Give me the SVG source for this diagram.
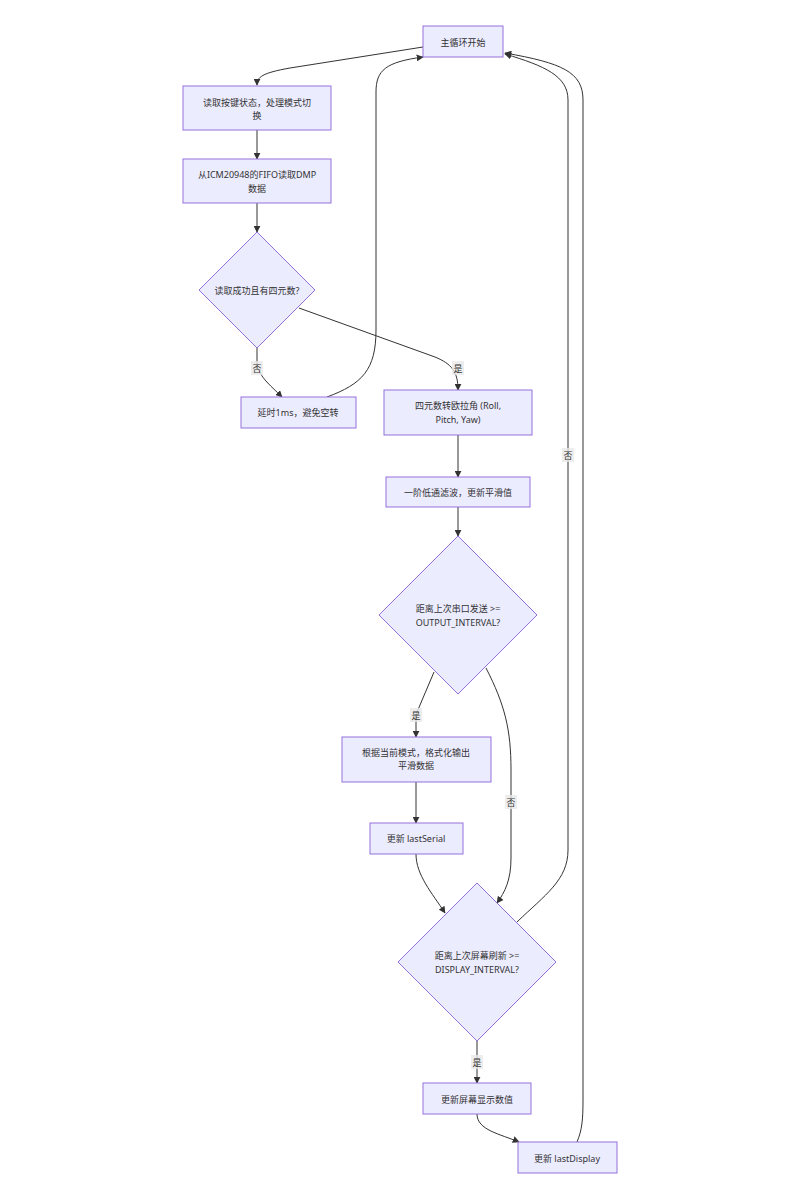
<svg xmlns="http://www.w3.org/2000/svg" width="800" height="1200" viewBox="0 0 800 1200">
<style>
.n{fill:#ECECFF;stroke:#9370DB;stroke-width:1}
.t{font-family:"Noto Sans","Noto Sans CJK SC",sans-serif;font-size:9px;fill:#333;text-anchor:middle;dominant-baseline:central}
.e{fill:none;stroke:#333;stroke-width:1}
.lb{fill:#e8e8e8;fill-opacity:0.8}
</style>
<defs>
<marker id="arr" viewBox="0 0 10 10" refX="9" refY="5" markerWidth="7" markerHeight="7" markerUnits="userSpaceOnUse" orient="auto">
<path d="M0,0 L10,5 L0,10 z" fill="#333"/>
</marker>
</defs>
<rect width="800" height="1200" fill="#fff"/>
<g id="connectors">
<path class="e" marker-end="url(#arr)" d="M423,47 L290,68 C262,73 257,77 257,85"/>
<path class="e" marker-end="url(#arr)" d="M257,130 L257,159"/>
<path class="e" marker-end="url(#arr)" d="M257,203 L257,232"/>
<path class="e" marker-end="url(#arr)" d="M257,348 L257,362 C257,375 270,385 282,397"/>
<path class="e" marker-end="url(#arr)" d="M299,308 L435,357 C452,364 458,372 458,390"/>
<path class="e" marker-end="url(#arr)" d="M327,397 C362,384 376,370 376,330 L376,92 C376,70 386,62 423,57"/>
<path class="e" marker-end="url(#arr)" d="M458,435 L458,477"/>
<path class="e" marker-end="url(#arr)" d="M458,507 L458,536"/>
<path class="e" marker-end="url(#arr)" d="M434,672 L420,705 Q416,712 416,720 L416,737"/>
<path class="e" marker-end="url(#arr)" d="M486,668 C505,705 511,730 511,770 L511,858 C511,880 505,892 497,903"/>
<path class="e" marker-end="url(#arr)" d="M416,782 L416,823"/>
<path class="e" marker-end="url(#arr)" d="M416,854 C416,875 432,893 445,913"/>
<path class="e" marker-end="url(#arr)" d="M477,1041 L477,1083"/>
<path class="e" marker-end="url(#arr)" d="M477,1114 C477,1130 500,1134 519,1142"/>
<path class="e" marker-end="url(#arr)" d="M517,922 C545,895 568,880 568,850 L568,100 C568,76 545,66 505,54"/>
<path class="e" marker-end="url(#arr)" d="M577,1142 C582,1130 583,1120 583,1100 L583,100 C583,72 562,63 505,53"/>
<rect class="lb" x="251" y="361" width="12" height="14"/>
<text class="t" x="257" y="368">否</text>
<rect class="lb" x="452" y="361" width="12" height="14"/>
<text class="t" x="458" y="368">是</text>
<rect class="lb" x="410" y="708" width="12" height="14"/>
<text class="t" x="416" y="715">是</text>
<rect class="lb" x="505" y="795" width="12" height="14"/>
<text class="t" x="511" y="802">否</text>
<rect class="lb" x="562" y="448" width="12" height="14"/>
<text class="t" x="568" y="455">否</text>
<rect class="lb" x="471" y="1055" width="12" height="14"/>
<text class="t" x="477" y="1062">是</text>
</g>
<g id="start">
<rect class="n" x="423" y="26" width="80" height="31"/>
<text class="t" x="463" y="42">主循环开始</text>
</g>
<g id="readKeys">
<rect class="n" x="183" y="86" width="148" height="44"/>
<text class="t" x="257" y="102">读取按键状态，处理模式切</text>
<text class="t" x="257" y="115">换</text>
</g>
<g id="readFifo">
<rect class="n" x="183" y="159" width="148" height="44"/>
<text class="t" x="257" y="174">从ICM20948的FIFO读取DMP</text>
<text class="t" x="257" y="188">数据</text>
</g>
<g id="dec1">
<polygon class="n" points="257,232 315,290 257,348 199,290"/>
<text class="t" x="257" y="290">读取成功且有四元数?</text>
</g>
<g id="delay">
<rect class="n" x="241" y="397" width="115" height="31"/>
<text class="t" x="298" y="412">延时1ms，避免空转</text>
</g>
<g id="euler">
<rect class="n" x="384" y="390" width="148" height="45"/>
<text class="t" x="458" y="405">四元数转欧拉角 (Roll,</text>
<text class="t" x="458" y="419">Pitch, Yaw)</text>
</g>
<g id="filter">
<rect class="n" x="386" y="477" width="144" height="30"/>
<text class="t" x="458" y="492">一阶低通滤波，更新平滑值</text>
</g>
<g id="dec2">
<polygon class="n" points="458,536 537,615 458,694 379,615"/>
<text class="t" x="458" y="608">距离上次串口发送 &gt;=</text>
<text class="t" x="458" y="622">OUTPUT_INTERVAL?</text>
</g>
<g id="format">
<rect class="n" x="342" y="737" width="149" height="45"/>
<text class="t" x="416" y="752">根据当前模式，格式化输出</text>
<text class="t" x="416" y="765">平滑数据</text>
</g>
<g id="lastSerial">
<rect class="n" x="370" y="823" width="93" height="31"/>
<text class="t" x="416" y="838">更新 lastSerial</text>
</g>
<g id="dec3">
<polygon class="n" points="477,883 556,962 477,1041 398,962"/>
<text class="t" x="477" y="955">距离上次屏幕刷新 &gt;=</text>
<text class="t" x="477" y="969">DISPLAY_INTERVAL?</text>
</g>
<g id="updScreen">
<rect class="n" x="423" y="1083" width="108" height="31"/>
<text class="t" x="477" y="1099">更新屏幕显示数值</text>
</g>
<g id="lastDisplay">
<rect class="n" x="518" y="1142" width="99" height="31"/>
<text class="t" x="567" y="1158">更新 lastDisplay</text>
</g>
</svg>
